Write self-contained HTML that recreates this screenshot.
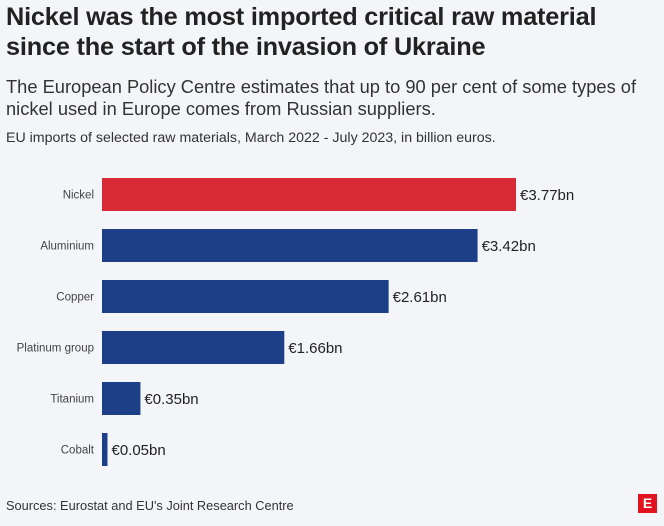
<!DOCTYPE html>
<html><head><meta charset="utf-8"><style>
body{margin:0;width:664px;height:526px;background:#f3f5f8;font-family:"Liberation Sans",sans-serif;overflow:hidden;position:relative}
.t{position:absolute;left:6px;top:2px;font-size:25.3px;font-weight:bold;color:#222;line-height:30px;letter-spacing:-0.2px}
.s{position:absolute;left:6px;top:76px;font-size:18.3px;color:#333;line-height:22px}
.n{position:absolute;left:6px;top:130px;font-size:14.2px;color:#333}
.src{position:absolute;left:6px;top:498px;font-size:12.8px;color:#333}
.logo{position:absolute;left:638px;top:494px;width:19px;height:19px;background:#e3121f;color:#fff;font-weight:bold;font-size:14px;text-align:center;line-height:19px}
</style></head><body>
<div class="t">Nickel was the most imported critical raw material<br>since the start of the invasion of Ukraine</div>
<div class="s">The European Policy Centre estimates that up to 90 per cent of some types of<br>nickel used in Europe comes from Russian suppliers.</div>
<div class="n">EU imports of selected raw materials, March 2022 - July 2023, in billion euros.</div>
<svg id="c" width="664" height="526" style="position:absolute;left:0;top:0"></svg>
<div class="src">Sources: Eurostat and EU's Joint Research Centre</div>
<div class="logo">E</div>
<script>
const categories=["Nickel","Aluminium","Copper","Platinum group","Titanium","Cobalt"];
const values=[3.77,3.42,2.61,1.66,0.35,0.05];
const labels=["€3.77bn","€3.42bn","€2.61bn","€1.66bn","€0.35bn","€0.05bn"];
const svg=document.getElementById('c');const NS="http://www.w3.org/2000/svg";
const x0=102,k=414/3.77;
function xs(v){return x0+v*k;}
function yc(i){return 194.5+i*51;}
categories.forEach((c,i)=>{
const r=document.createElementNS(NS,'rect');
r.setAttribute('x',x0);r.setAttribute('y',yc(i)-16.5);r.setAttribute('width',xs(values[i])-x0);r.setAttribute('height',33);
r.setAttribute('fill',i===0?'#d72a35':'#1c3f87');


svg.appendChild(r);
const t=document.createElementNS(NS,'text');
t.setAttribute('x',94);t.setAttribute('y',yc(i)+4);t.setAttribute('text-anchor','end');t.setAttribute('font-size','11.5');t.setAttribute('fill','#444');t.textContent=c;


svg.appendChild(t);
const v=document.createElementNS(NS,'text');
v.setAttribute('x',xs(values[i])+4);v.setAttribute('y',yc(i)+5.5);v.setAttribute('font-size','15');v.setAttribute('fill','#222');v.textContent=labels[i];


svg.appendChild(v);
});
</script>
</body></html>
